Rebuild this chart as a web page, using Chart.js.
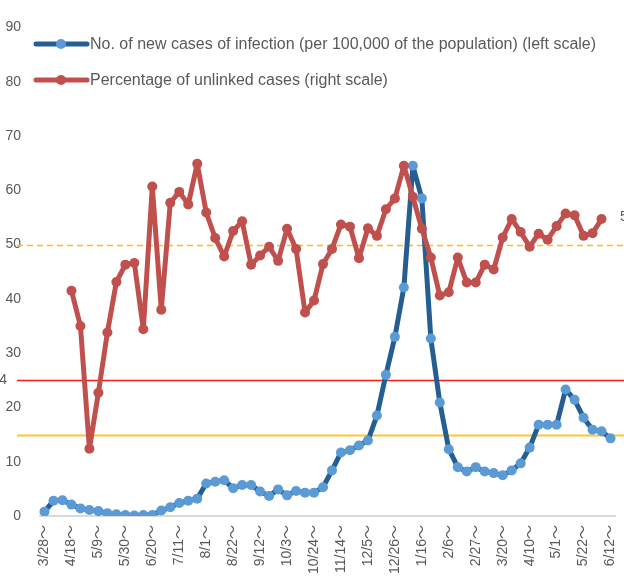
<!DOCTYPE html>
<html>
<head>
<meta charset="utf-8">
<script src="https://cdn.jsdelivr.net/npm/chart.js@4/dist/chart.umd.min.js"></script>
<style>
  html, body { margin: 0; padding: 0; background: #fff; }
  #wrap { width: 624px; height: 577px; position: relative; overflow: hidden; }
</style>
</head>
<body>
<div id="wrap"><canvas id="chart" width="624" height="577"></canvas></div>
<script>
const weeks = [
  '3/28', '4/4', '4/11', '4/18', '4/25', '5/2', '5/9', '5/16', '5/23', '5/30',
  '6/6', '6/13', '6/20', '6/27', '7/4', '7/11', '7/18', '7/25', '8/1', '8/8',
  '8/15', '8/22', '8/29', '9/5', '9/12', '9/19', '9/26', '10/3', '10/10', '10/17',
  '10/24', '10/31', '11/7', '11/14', '11/21', '11/28', '12/5', '12/12', '12/19', '12/26',
  '1/2', '1/9', '1/16', '1/23', '1/30', '2/6', '2/13', '2/20', '2/27', '3/6',
  '3/13', '3/20', '3/27', '4/3', '4/10', '4/17', '4/24', '5/1', '5/8', '5/15',
  '5/22', '5/29', '6/5', '6/12'
];

// new cases per 100,000 (left scale)
const newCases = [
  0.8, 2.8, 2.9, 2.1, 1.4, 1.1, 0.9, 0.5, 0.3, 0.2,
  0.1, 0.2, 0.2, 1.0, 1.6, 2.4, 2.8, 3.2, 6.0, 6.3,
  6.6, 5.1, 5.7, 5.7, 4.5, 3.7, 4.9, 3.8, 4.6, 4.3,
  4.3, 5.3, 8.4, 11.7, 12.1, 13.0, 13.9, 18.5, 26.0, 33.0,
  42.1, 64.5, 58.5, 32.7, 20.9, 12.3, 9.0, 8.2, 9.0, 8.2,
  7.9, 7.5, 8.4, 9.7, 12.6, 16.8, 16.8, 16.8, 23.3, 21.4,
  18.1, 15.9, 15.6, 14.3
];

// percentage of unlinked cases (right scale)
const unlinkedPct = [
  null, null, null, 41.5, 35.0, 12.4, 22.7, 33.8, 43.1, 46.3,
  46.6, 34.4, 60.7, 38.0, 57.7, 59.7, 57.4, 64.9, 55.9, 51.2,
  47.8, 52.5, 54.3, 46.3, 48.0, 49.6, 47.0, 52.9, 49.2, 37.5,
  39.7, 46.4, 49.2, 53.7, 53.3, 47.5, 53.0, 51.6, 56.5, 58.5,
  64.5, 58.8, 52.9, 47.6, 40.6, 41.2, 47.6, 43.0, 43.0, 46.3,
  45.4, 51.3, 54.7, 52.3, 49.6, 52.0, 50.9, 53.4, 55.7, 55.4,
  51.6, 52.1, 54.7, null
];

const legendLabels = [
  'No. of new cases of infection (per 100,000 of the population) (left scale)',
  'Percentage of unlinked cases (right scale)'
];

// reference lines: dashed 50, red 25, yellow 15
const refLines = [50, 25, 15];

const greyText = '#595959';

const refLinePlugin = {
  id: 'refLines',
  beforeDatasetsDraw(chart) {
    const ctx = chart.ctx;
    const y = chart.scales.y;
    const styles = [
      { color: '#ffc000', width: 1.5, dash: [6, 4] },
      { color: '#ff1a1a', width: 1.5, dash: [] },
      { color: '#ffc52e', width: 2, dash: [] }
    ];
    ctx.save();
    refLines.forEach((v, i) => {
      const py = Math.round(y.getPixelForValue(v)) + 0.5;
      ctx.strokeStyle = styles[i].color;
      ctx.lineWidth = styles[i].width;
      ctx.setLineDash(styles[i].dash);
      ctx.beginPath();
      ctx.moveTo(17, py);
      ctx.lineTo(chart.width, py);
      ctx.stroke();
    });
    // clipped labels at the image edges
    ctx.setLineDash([]);
    ctx.fillStyle = greyText;
    ctx.font = '14px "Liberation Sans", Arial, sans-serif';
    ctx.textBaseline = 'middle';
    ctx.textAlign = 'right';
    ctx.fillText('4', 7, y.getPixelForValue(refLines[1]));
    ctx.textAlign = 'left';
    ctx.fillText('55', 620, 217);
    ctx.restore();
  }
};

const legendPlugin = {
  id: 'lineLegend',
  afterDraw(chart) {
    const ctx = chart.ctx;
    const rows = [44, 80];
    ctx.save();
    chart.data.datasets.forEach((ds, i) => {
      const cy = rows[i];
      ctx.strokeStyle = ds.borderColor;
      ctx.lineWidth = 5;
      ctx.lineCap = 'round';
      ctx.beginPath();
      ctx.moveTo(36, cy);
      ctx.lineTo(87, cy);
      ctx.stroke();
      ctx.fillStyle = ds.pointBackgroundColor;
      ctx.beginPath();
      ctx.arc(61, cy, 5, 0, Math.PI * 2);
      ctx.fill();
      ctx.fillStyle = greyText;
      ctx.font = '16px "Liberation Sans", Arial, sans-serif';
      ctx.textBaseline = 'middle';
      ctx.textAlign = 'left';
      ctx.fillText(legendLabels[i], 90, cy + 1);
    });
    ctx.restore();
  }
};

new Chart(document.getElementById('chart'), {
  type: 'line',
  data: {
    labels: weeks,
    datasets: [{
      label: legendLabels[0],
      data: newCases,
      borderColor: '#255e91',
      borderWidth: 5,
      borderJoinStyle: 'round',
      borderCapStyle: 'round',
      pointBackgroundColor: '#5b9bd5',
      pointBorderColor: '#5b9bd5',
      pointRadius: 5,
      pointBorderWidth: 0,
      tension: 0,
      order: 2
    }, {
      label: legendLabels[1],
      data: unlinkedPct,
      borderColor: '#c0504d',
      borderWidth: 5,
      borderJoinStyle: 'round',
      borderCapStyle: 'round',
      pointBackgroundColor: '#c0504d',
      pointBorderColor: '#c0504d',
      pointRadius: 5,
      pointBorderWidth: 0,
      tension: 0,
      order: 1
    }]
  },
  options: {
    responsive: false,
    animation: false,
    devicePixelRatio: 1,
    layout: { padding: { top: 24, right: 9, left: 0, bottom: 0 } },
    plugins: {
      legend: { display: false },
      tooltip: { enabled: false }
    },
    scales: {
      x: {
        offset: true,
        grid: { display: false, drawTicks: false },
        border: { display: true, color: '#d9d9d9', width: 2 },
        afterFit(scale) {
          scale.height = 61;
          scale.paddingLeft = 0;
          scale.paddingRight = 0;
        },
        ticks: {
          autoSkip: false,
          maxRotation: 90,
          minRotation: 90,
          padding: 9,
          color: greyText,
          font: { family: '"Liberation Sans", "Noto Sans CJK JP", sans-serif', size: 14 },
          callback(value, index) {
            return index % 3 === 0 ? weeks[index] + '～' : '';
          }
        }
      },
      y: {
        min: 0,
        max: 90,
        grid: { display: false, drawTicks: false },
        border: { display: false },
        afterFit(scale) { scale.width = 40; },
        ticks: {
          stepSize: 10,
          padding: 19,
          color: greyText,
          font: { family: '"Liberation Sans", Arial, sans-serif', size: 14 }
        }
      }
    }
  },
  plugins: [refLinePlugin, legendPlugin]
});
</script>
</body>
</html>
